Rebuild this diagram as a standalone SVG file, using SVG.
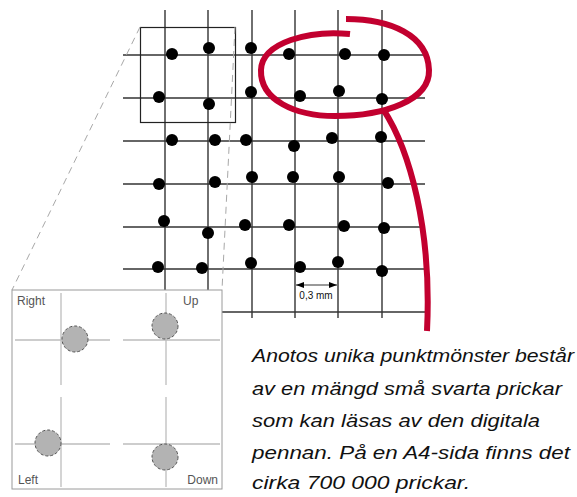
<svg xmlns="http://www.w3.org/2000/svg" width="577" height="497" viewBox="0 0 577 497">
<style>
.g{stroke:#333;stroke-width:1.4;fill:none}
.d{fill:#000}
.il{stroke:#bdbdbd;stroke-width:1.3;fill:none}
.gd{fill:#b3b3b3;stroke:#555;stroke-width:1;stroke-dasharray:3 2}
.lab{font-family:"Liberation Sans",Arial,sans-serif;font-size:12px;fill:#555}
.red{stroke:#c2002f;stroke-width:6;fill:none;stroke-linecap:butt}
.hw{font-family:"Liberation Sans",Arial,sans-serif;font-style:italic;font-size:19px;fill:#111}
.dash{stroke:#a8a8a8;stroke-width:1;stroke-dasharray:7 5;fill:none}
</style>
<defs>
<marker id="ah" viewBox="0 0 8 6" refX="8" refY="3" markerWidth="8" markerHeight="6" orient="auto-start-reverse" markerUnits="userSpaceOnUse">
<path d="M0,0 L8,3 L0,6 Z" fill="#000"/>
</marker>
</defs>
<rect width="577" height="497" fill="#fff"/>
<g id="grid" class="g">
<line x1="165" y1="10" x2="165" y2="318"/>
<line x1="208" y1="10" x2="208" y2="318"/>
<line x1="252" y1="10" x2="252" y2="318"/>
<line x1="295" y1="10" x2="295" y2="318"/>
<line x1="338" y1="10" x2="338" y2="318"/>
<line x1="382" y1="10" x2="382" y2="318"/>
<line x1="123" y1="55" x2="425" y2="55"/>
<line x1="123" y1="98" x2="425" y2="98"/>
<line x1="123" y1="141" x2="425" y2="141"/>
<line x1="123" y1="184" x2="425" y2="184"/>
<line x1="123" y1="227" x2="425" y2="227"/>
<line x1="123" y1="269" x2="425" y2="269"/>
<line x1="123" y1="312" x2="425" y2="312"/>
</g>
<g id="dots" class="d">
<circle cx="172" cy="54" r="6"/><circle cx="209" cy="48" r="6"/><circle cx="251" cy="48" r="6"/><circle cx="289" cy="54" r="6"/><circle cx="345" cy="54" r="6"/><circle cx="384" cy="55" r="6"/>
<circle cx="159" cy="97" r="6"/><circle cx="209" cy="104" r="6"/><circle cx="251" cy="92" r="6"/><circle cx="300" cy="96" r="6"/><circle cx="339" cy="91" r="6"/><circle cx="382" cy="99" r="6"/>
<circle cx="172" cy="140" r="6"/><circle cx="215" cy="140" r="6"/><circle cx="246" cy="140" r="6"/><circle cx="294" cy="146" r="6"/><circle cx="332" cy="138" r="6"/><circle cx="381" cy="137" r="6"/>
<circle cx="159" cy="184" r="6"/><circle cx="215" cy="182" r="6"/><circle cx="252" cy="177" r="6"/><circle cx="293" cy="177" r="6"/><circle cx="339" cy="177" r="6"/><circle cx="388" cy="183" r="6"/>
<circle cx="164" cy="221" r="6"/><circle cx="208" cy="233" r="6"/><circle cx="245" cy="225" r="6"/><circle cx="289" cy="225" r="6"/><circle cx="344" cy="226" r="6"/><circle cx="384" cy="228" r="6"/>
<circle cx="158" cy="267" r="6"/><circle cx="202" cy="268" r="6"/><circle cx="251" cy="263" r="6"/><circle cx="300" cy="267" r="6"/><circle cx="338" cy="262" r="6"/><circle cx="382" cy="271" r="6"/>
</g>
<g id="zoom-area">
<rect x="140.5" y="27.5" width="95" height="95" fill="none" stroke="#222" stroke-width="1.2"/>
</g>
<g id="connectors">
<line class="dash" x1="140" y1="27" x2="12" y2="290"/>
<line class="dash" x1="235" y1="27" x2="222" y2="290"/>
<path class="red" d="M383,109 C410,150 432,230 427,331"/>
</g>
<g id="inset">
<rect x="12" y="290" width="210" height="199" fill="#fff" stroke="#9a9a9a" stroke-width="1"/>
<g class="il">
<line x1="61" y1="293" x2="61" y2="385"/><line x1="15" y1="340" x2="110" y2="340"/>
<line x1="166" y1="293" x2="166" y2="385"/><line x1="123" y1="340" x2="220" y2="340"/>
<line x1="61" y1="397" x2="61" y2="487"/><line x1="15" y1="444" x2="110" y2="444"/>
<line x1="166" y1="397" x2="166" y2="487"/><line x1="123" y1="444" x2="220" y2="444"/>
</g>
<circle class="gd" cx="75" cy="339" r="13"/>
<circle class="gd" cx="165" cy="326" r="13"/>
<circle class="gd" cx="48" cy="443" r="13"/>
<circle class="gd" cx="165" cy="457" r="13"/>
<text class="lab" x="17" y="305">Right</text>
<text class="lab" x="183" y="305">Up</text>
<text class="lab" x="18" y="484">Left</text>
<text class="lab" x="218" y="484" text-anchor="end">Down</text>
</g>
<g id="measure">
<line x1="296" y1="285" x2="337" y2="285" stroke="#000" stroke-width="0.8" marker-start="url(#ah)" marker-end="url(#ah)"/>
<text x="316" y="299" text-anchor="middle" font-family="Liberation Sans,Arial,sans-serif" font-size="10" fill="#111">0,3 mm</text>
</g>
<g id="highlight">
<path class="red" d="M350,34 C310,30 262,42 261,70 C260,100 295,116 335,116 C385,116 430,100 429,70 C428,35 390,19 346,19"/>
</g>
<g id="caption" class="hw">
<text x="252" y="362" textLength="322" lengthAdjust="spacingAndGlyphs">Anotos unika punktmönster består</text>
<text x="252" y="395" textLength="310" lengthAdjust="spacingAndGlyphs">av en mängd små svarta prickar</text>
<text x="252" y="427" textLength="288" lengthAdjust="spacingAndGlyphs">som kan läsas av den digitala</text>
<text x="252" y="459" textLength="318" lengthAdjust="spacingAndGlyphs">pennan. På en A4-sida finns det</text>
<text x="252" y="489" textLength="218" lengthAdjust="spacingAndGlyphs">cirka 700 000 prickar.</text>
</g>
</svg>
